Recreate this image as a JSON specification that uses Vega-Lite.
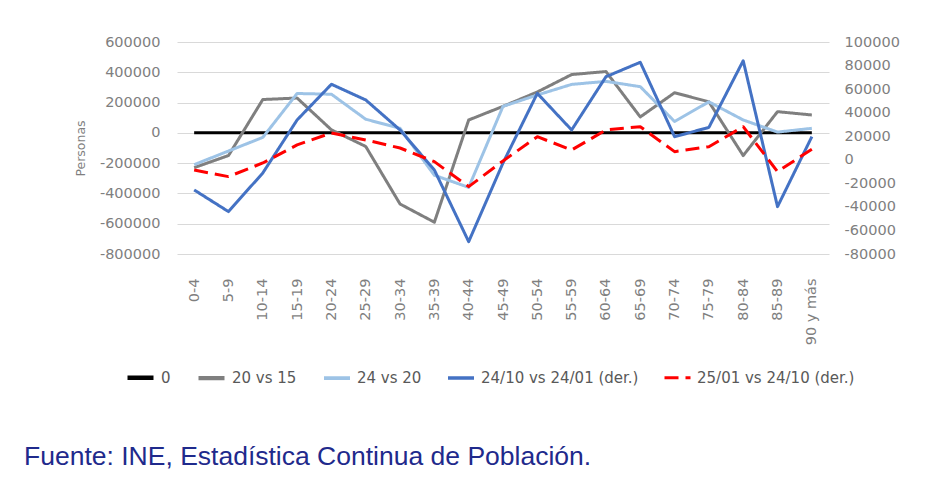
{
  "$schema": "https://vega.github.io/schema/vega-lite/v6.json",
  "autosize": {"type": "none"},
  "width": 652,
  "height": 212,
  "padding": {"left": 177, "top": 42, "right": 101, "bottom": 236},
  "background": "white",
  "config": {"view": {"stroke": null}, "font": "DejaVu Sans"},
  "title": {
    "text": "Fuente: INE, Estadística Continua de Población.",
    "orient": "bottom",
    "anchor": "start",
    "frame": "group",
    "dx": -153,
    "offset": 78,
    "baseline": "alphabetic",
    "font": "Liberation Sans",
    "fontSize": 26.5,
    "fontWeight": "normal",
    "color": "#1f2a8c"
  },
  "data": {
    "values": [
      {"age": "0-4", "series": "0", "value": 0},
      {"age": "5-9", "series": "0", "value": 0},
      {"age": "10-14", "series": "0", "value": 0},
      {"age": "15-19", "series": "0", "value": 0},
      {"age": "20-24", "series": "0", "value": 0},
      {"age": "25-29", "series": "0", "value": 0},
      {"age": "30-34", "series": "0", "value": 0},
      {"age": "35-39", "series": "0", "value": 0},
      {"age": "40-44", "series": "0", "value": 0},
      {"age": "45-49", "series": "0", "value": 0},
      {"age": "50-54", "series": "0", "value": 0},
      {"age": "55-59", "series": "0", "value": 0},
      {"age": "60-64", "series": "0", "value": 0},
      {"age": "65-69", "series": "0", "value": 0},
      {"age": "70-74", "series": "0", "value": 0},
      {"age": "75-79", "series": "0", "value": 0},
      {"age": "80-84", "series": "0", "value": 0},
      {"age": "85-89", "series": "0", "value": 0},
      {"age": "90 y más", "series": "0", "value": 0},

      {"age": "0-4", "series": "20 vs 15", "value": -230000},
      {"age": "5-9", "series": "20 vs 15", "value": -150000},
      {"age": "10-14", "series": "20 vs 15", "value": 220000},
      {"age": "15-19", "series": "20 vs 15", "value": 230000},
      {"age": "20-24", "series": "20 vs 15", "value": 20000},
      {"age": "25-29", "series": "20 vs 15", "value": -90000},
      {"age": "30-34", "series": "20 vs 15", "value": -470000},
      {"age": "35-39", "series": "20 vs 15", "value": -590000},
      {"age": "40-44", "series": "20 vs 15", "value": 85000},
      {"age": "45-49", "series": "20 vs 15", "value": 175000},
      {"age": "50-54", "series": "20 vs 15", "value": 270000},
      {"age": "55-59", "series": "20 vs 15", "value": 385000},
      {"age": "60-64", "series": "20 vs 15", "value": 405000},
      {"age": "65-69", "series": "20 vs 15", "value": 105000},
      {"age": "70-74", "series": "20 vs 15", "value": 265000},
      {"age": "75-79", "series": "20 vs 15", "value": 205000},
      {"age": "80-84", "series": "20 vs 15", "value": -150000},
      {"age": "85-89", "series": "20 vs 15", "value": 140000},
      {"age": "90 y más", "series": "20 vs 15", "value": 118000},

      {"age": "0-4", "series": "24 vs 20", "value": -210000},
      {"age": "5-9", "series": "24 vs 20", "value": -120000},
      {"age": "10-14", "series": "24 vs 20", "value": -30000},
      {"age": "15-19", "series": "24 vs 20", "value": 260000},
      {"age": "20-24", "series": "24 vs 20", "value": 255000},
      {"age": "25-29", "series": "24 vs 20", "value": 90000},
      {"age": "30-34", "series": "24 vs 20", "value": 30000},
      {"age": "35-39", "series": "24 vs 20", "value": -280000},
      {"age": "40-44", "series": "24 vs 20", "value": -360000},
      {"age": "45-49", "series": "24 vs 20", "value": 175000},
      {"age": "50-54", "series": "24 vs 20", "value": 250000},
      {"age": "55-59", "series": "24 vs 20", "value": 320000},
      {"age": "60-64", "series": "24 vs 20", "value": 340000},
      {"age": "65-69", "series": "24 vs 20", "value": 305000},
      {"age": "70-74", "series": "24 vs 20", "value": 75000},
      {"age": "75-79", "series": "24 vs 20", "value": 205000},
      {"age": "80-84", "series": "24 vs 20", "value": 85000},
      {"age": "85-89", "series": "24 vs 20", "value": 5000},
      {"age": "90 y más", "series": "24 vs 20", "value": 30000},

      {"age": "0-4", "series": "24/10 vs 24/01 (der.)", "value": -25600},
      {"age": "5-9", "series": "24/10 vs 24/01 (der.)", "value": -44000},
      {"age": "10-14", "series": "24/10 vs 24/01 (der.)", "value": -11200},
      {"age": "15-19", "series": "24/10 vs 24/01 (der.)", "value": 33800},
      {"age": "20-24", "series": "24/10 vs 24/01 (der.)", "value": 64100},
      {"age": "25-29", "series": "24/10 vs 24/01 (der.)", "value": 50800},
      {"age": "30-34", "series": "24/10 vs 24/01 (der.)", "value": 25300},
      {"age": "35-39", "series": "24/10 vs 24/01 (der.)", "value": -8700},
      {"age": "40-44", "series": "24/10 vs 24/01 (der.)", "value": -69500},
      {"age": "45-49", "series": "24/10 vs 24/01 (der.)", "value": -2700},
      {"age": "50-54", "series": "24/10 vs 24/01 (der.)", "value": 56400},
      {"age": "55-59", "series": "24/10 vs 24/01 (der.)", "value": 25300},
      {"age": "60-64", "series": "24/10 vs 24/01 (der.)", "value": 70500},
      {"age": "65-69", "series": "24/10 vs 24/01 (der.)", "value": 82800},
      {"age": "70-74", "series": "24/10 vs 24/01 (der.)", "value": 19600},
      {"age": "75-79", "series": "24/10 vs 24/01 (der.)", "value": 27500},
      {"age": "80-84", "series": "24/10 vs 24/01 (der.)", "value": 84100},
      {"age": "85-89", "series": "24/10 vs 24/01 (der.)", "value": -39800},
      {"age": "90 y más", "series": "24/10 vs 24/01 (der.)", "value": 19600},

      {"age": "0-4", "series": "25/01 vs 24/10 (der.)", "value": -8700},
      {"age": "5-9", "series": "25/01 vs 24/10 (der.)", "value": -14300},
      {"age": "10-14", "series": "25/01 vs 24/10 (der.)", "value": -2700},
      {"age": "15-19", "series": "25/01 vs 24/10 (der.)", "value": 12600},
      {"age": "20-24", "series": "25/01 vs 24/10 (der.)", "value": 22800},
      {"age": "25-29", "series": "25/01 vs 24/10 (der.)", "value": 16800},
      {"age": "30-34", "series": "25/01 vs 24/10 (der.)", "value": 10000},
      {"age": "35-39", "series": "25/01 vs 24/10 (der.)", "value": -1600},
      {"age": "40-44", "series": "25/01 vs 24/10 (der.)", "value": -22800},
      {"age": "45-49", "series": "25/01 vs 24/10 (der.)", "value": -1000},
      {"age": "50-54", "series": "25/01 vs 24/10 (der.)", "value": 19600},
      {"age": "55-59", "series": "25/01 vs 24/10 (der.)", "value": 8300},
      {"age": "60-64", "series": "25/01 vs 24/10 (der.)", "value": 25300},
      {"age": "65-69", "series": "25/01 vs 24/10 (der.)", "value": 28100},
      {"age": "70-74", "series": "25/01 vs 24/10 (der.)", "value": 6900},
      {"age": "75-79", "series": "25/01 vs 24/10 (der.)", "value": 11100},
      {"age": "80-84", "series": "25/01 vs 24/10 (der.)", "value": 28100},
      {"age": "85-89", "series": "25/01 vs 24/10 (der.)", "value": -10100},
      {"age": "90 y más", "series": "25/01 vs 24/10 (der.)", "value": 9000}
    ]
  },
  "layer": [
    {
      "transform": [{"filter": {"field": "series", "oneOf": ["0", "20 vs 15", "24 vs 20"]}}],
      "mark": {"type": "line", "strokeWidth": 3, "strokeJoin": "round"},
      "encoding": {
        "x": {
          "field": "age", "type": "ordinal",
          "sort": ["0-4","5-9","10-14","15-19","20-24","25-29","30-34","35-39","40-44","45-49","50-54","55-59","60-64","65-69","70-74","75-79","80-84","85-89","90 y más"],
          "scale": {"type": "point", "padding": 0.5},
          "axis": {"title": null, "labelAngle": -90, "ticks": false, "domain": false, "grid": false, "labelPadding": 24, "labelFontSize": 14.5, "labelColor": "#7f7f7f"}
        },
        "y": {
          "field": "value", "type": "quantitative",
          "scale": {"domain": [-800000, 600000], "nice": false, "zero": false},
          "axis": {"orient": "left", "title": "Personas", "titleFontSize": 12.5, "titleFontWeight": "normal", "titleColor": "#7f7f7f", "titlePadding": 12,
                   "values": [-800000,-600000,-400000,-200000,0,200000,400000,600000], "labelExpr": "'' + datum.value",
                   "labelFontSize": 14.5, "labelColor": "#7f7f7f", "labelPadding": 17, "ticks": false, "domain": false, "grid": true, "gridColor": "#d9d9d9", "gridWidth": 1}
        },
        "color": {
          "field": "series", "type": "nominal",
          "scale": {"domain": ["0","20 vs 15","24 vs 20","24/10 vs 24/01 (der.)","25/01 vs 24/10 (der.)"], "range": ["#000000","#7f7f7f","#9dc3e6","#4472c4","#ff0000"]},
          "legend": {"title": null, "orient": "none", "legendX": -52, "legendY": 320, "direction": "horizontal", "symbolType": "stroke", "symbolSize": 676, "symbolStrokeWidth": 5, "labelFontSize": 15, "labelColor": "#595959", "columnPadding": 19, "labelOffset": 5, "padding": 0}
        },
        "strokeDash": {
          "field": "series", "type": "nominal",
          "scale": {"domain": ["0","20 vs 15","24 vs 20","24/10 vs 24/01 (der.)","25/01 vs 24/10 (der.)"], "range": [[1,0],[1,0],[1,0],[1,0],[14,7]]},
          "legend": {"title": null, "orient": "none", "legendX": -52, "legendY": 320, "direction": "horizontal", "symbolType": "stroke", "symbolSize": 676, "symbolStrokeWidth": 5, "labelFontSize": 15, "labelColor": "#595959", "columnPadding": 19, "labelOffset": 5, "padding": 0}
        },
        "strokeWidth": {
          "field": "series", "type": "nominal",
          "scale": {"domain": ["0","20 vs 15","24 vs 20","24/10 vs 24/01 (der.)","25/01 vs 24/10 (der.)"], "range": [4.5, 3, 3, 3, 5]},
          "legend": null
        }
      }
    },
    {
      "transform": [{"filter": {"field": "series", "oneOf": ["24/10 vs 24/01 (der.)", "25/01 vs 24/10 (der.)"]}}],
      "mark": {"type": "line", "strokeWidth": 3, "strokeJoin": "round"},
      "encoding": {
        "x": {
          "field": "age", "type": "ordinal",
          "sort": ["0-4","5-9","10-14","15-19","20-24","25-29","30-34","35-39","40-44","45-49","50-54","55-59","60-64","65-69","70-74","75-79","80-84","85-89","90 y más"],
          "scale": {"type": "point", "padding": 0.5}
        },
        "y": {
          "field": "value", "type": "quantitative",
          "scale": {"domain": [-80000, 100000], "nice": false, "zero": false},
          "axis": {"orient": "right", "title": null, "values": [-80000,-60000,-40000,-20000,0,20000,40000,60000,80000,100000], "labelExpr": "'' + datum.value",
                   "labelFontSize": 14.5, "labelColor": "#7f7f7f", "labelPadding": 15, "ticks": false, "domain": false, "grid": false}
        },
        "color": {"field": "series", "type": "nominal"},
        "strokeDash": {"field": "series", "type": "nominal"},
        "strokeWidth": {"field": "series", "type": "nominal", "legend": null}
      }
    }
  ],
  "resolve": {"scale": {"y": "independent"}}
}
